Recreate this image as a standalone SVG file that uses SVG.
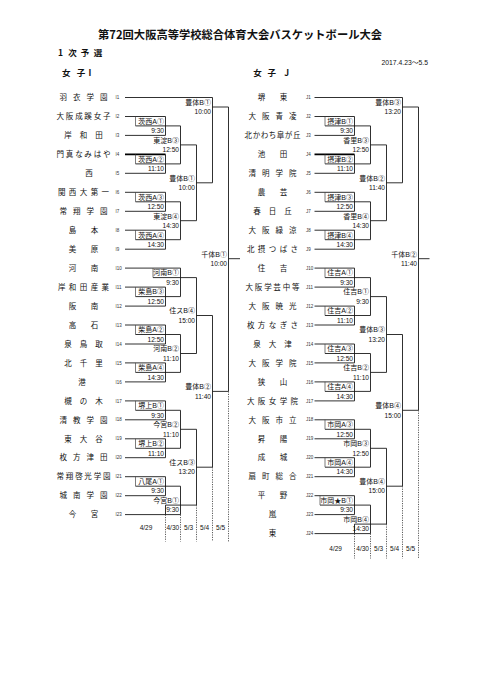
<svg xmlns="http://www.w3.org/2000/svg" width="482" height="680" viewBox="0 0 482 680">
<style>
.ln{stroke:#1a1a1a;stroke-width:0.9;fill:none}
.bd{stroke:#000;stroke-width:1.7;fill:none}
.bx{stroke:#444;stroke-width:0.7;fill:none}
.dt{stroke:#333;stroke-width:0.8;stroke-dasharray:1.2 1.2;fill:none}
.nm{font-family:"Noto Sans CJK JP",sans-serif;font-size:7.5px;fill:#111;text-anchor:middle}
.cd{font-family:"Liberation Sans",sans-serif;font-size:4.5px;fill:#333}
.lb{font-family:"Liberation Sans","Noto Sans CJK JP",sans-serif;font-size:7px;fill:#111;text-anchor:end}
.tm{font-family:"Liberation Sans",sans-serif;font-size:6.6px;fill:#111;text-anchor:end}
.dy{font-family:"Liberation Sans",sans-serif;font-size:6.5px;fill:#111;text-anchor:middle}
.hd{font-family:"Noto Sans CJK JP",sans-serif;font-weight:bold;fill:#111;text-anchor:middle}
</style>
<rect width="482" height="680" fill="#fff"/>
<g id="header">
<text class="hd" x="240" y="39" font-size="11.3" textLength="284" lengthAdjust="spacingAndGlyphs">第72回大阪高等学校総合体育大会バスケットボール大会</text>
<text class="hd" x="60.5 72.5 85 98" y="55.5" font-size="8.5">1次予選</text>
<text font-family="Liberation Sans,Noto Sans CJK JP,sans-serif" font-size="6.8" x="428" y="64.8" text-anchor="end" fill="#111">2017.4.23～5.5</text>
<text class="hd" x="66.3 81 90" y="75.5" font-size="8.5">女子I</text>
<text class="hd" x="257.5 271.7 286.7" y="75.5" font-size="8.5">女子J</text>
</g>
<g id="teams-I">
<g id="team-I1"><text class="nm" x="63.3 76.8 90.2 103.7" y="100.2">羽衣学園</text><text class="cd" x="115.5" y="99.1">I1</text></g>
<g id="team-I2"><text class="nm" x="60.3 69.6 78.9 88.1 97.4 106.7" y="119.2">大阪成蹊女子</text><text class="cd" x="115.5" y="118.1">I2</text></g>
<g id="team-I3"><text class="nm" x="68 83.5 99" y="138.1">岸和田</text><text class="cd" x="115.5" y="137">I3</text></g>
<g id="team-I4"><text class="nm" x="60.3 69.6 78.9 88.1 97.4 106.7" y="157.1">門真なみはや</text><text class="cd" x="115.5" y="156">I4</text></g>
<g id="team-I5"><text class="nm" x="89" y="176">西</text><text class="cd" x="115.5" y="174.9">I5</text></g>
<g id="team-I6"><text class="nm" x="61.7 72.6 83.5 94.4 105.3" y="195">関西大第一</text><text class="cd" x="115.5" y="193.9">I6</text></g>
<g id="team-I7"><text class="nm" x="63.3 76.8 90.2 103.7" y="214">常翔学園</text><text class="cd" x="115.5" y="212.9">I7</text></g>
<g id="team-I8"><text class="nm" x="72.5 94.5" y="232.9">島本</text><text class="cd" x="115.5" y="231.8">I8</text></g>
<g id="team-I9"><text class="nm" x="72.5 94.5" y="251.9">美原</text><text class="cd" x="115.5" y="250.8">I9</text></g>
<g id="team-I10"><text class="nm" x="72.5 94.5" y="270.8">河南</text><text class="cd" x="115.5" y="269.7">I10</text></g>
<g id="team-I11"><text class="nm" x="61.7 72.6 83.5 94.4 105.3" y="289.8">岸和田産業</text><text class="cd" x="115.5" y="288.7">I11</text></g>
<g id="team-I12"><text class="nm" x="72.5 94.5" y="308.8">阪南</text><text class="cd" x="115.5" y="307.7">I12</text></g>
<g id="team-I13"><text class="nm" x="72.5 94.5" y="327.7">高石</text><text class="cd" x="115.5" y="326.6">I13</text></g>
<g id="team-I14"><text class="nm" x="68 83.5 99" y="346.7">泉鳥取</text><text class="cd" x="115.5" y="345.6">I14</text></g>
<g id="team-I15"><text class="nm" x="68 83.5 99" y="365.6">北千里</text><text class="cd" x="115.5" y="364.5">I15</text></g>
<g id="team-I16"><text class="nm" x="82" y="384.6">港</text><text class="cd" x="115.5" y="383.5">I16</text></g>
<g id="team-I17"><text class="nm" x="68 83.5 99" y="403.6">槻の木</text><text class="cd" x="115.5" y="402.5">I17</text></g>
<g id="team-I18"><text class="nm" x="63.3 76.8 90.2 103.7" y="422.5">清教学園</text><text class="cd" x="115.5" y="421.4">I18</text></g>
<g id="team-I19"><text class="nm" x="68 83.5 99" y="441.5">東大谷</text><text class="cd" x="115.5" y="440.4">I19</text></g>
<g id="team-I20"><text class="nm" x="63.3 76.8 90.2 103.7" y="460.4">枚方津田</text><text class="cd" x="115.5" y="459.3">I20</text></g>
<g id="team-I21"><text class="nm" x="60.3 69.6 78.9 88.1 97.4 106.7" y="479.4">常翔啓光学園</text><text class="cd" x="115.5" y="478.3">I21</text></g>
<g id="team-I22"><text class="nm" x="63.3 76.8 90.2 103.7" y="498.4">城南学園</text><text class="cd" x="115.5" y="497.3">I22</text></g>
<g id="team-I23"><text class="nm" x="72.5 94.5" y="517.3">今宮</text><text class="cd" x="115.5" y="516.2">I23</text></g>
</g>
<g id="teams-J">
<g id="team-J1"><text class="nm" x="261.5 283.5" y="100.2">堺東</text><text class="cd" x="306" y="99.1">J1</text></g>
<g id="team-J2"><text class="nm" x="252.3 265.8 279.2 292.7" y="119.2">大阪青凌</text><text class="cd" x="306" y="118.1">J2</text></g>
<g id="team-J3"><text class="nm" x="248.3 256.4 264.4 272.5 280.6 288.6 296.7" y="138.1">北かわち皐が丘</text><text class="cd" x="306" y="137">J3</text></g>
<g id="team-J4"><text class="nm" x="261.5 283.5" y="157.1">池田</text><text class="cd" x="306" y="156">J4</text></g>
<g id="team-J5"><text class="nm" x="252.3 265.8 279.2 292.7" y="176">清明学院</text><text class="cd" x="306" y="174.9">J5</text></g>
<g id="team-J6"><text class="nm" x="261.5 283.5" y="195">農芸</text><text class="cd" x="306" y="193.9">J6</text></g>
<g id="team-J7"><text class="nm" x="257 272.5 288" y="214">春日丘</text><text class="cd" x="306" y="212.9">J7</text></g>
<g id="team-J8"><text class="nm" x="252.3 265.8 279.2 292.7" y="232.9">大阪緑涼</text><text class="cd" x="306" y="231.8">J8</text></g>
<g id="team-J9"><text class="nm" x="250.7 261.6 272.5 283.4 294.3" y="251.9">北摂つばさ</text><text class="cd" x="306" y="250.8">J9</text></g>
<g id="team-J10"><text class="nm" x="261.5 283.5" y="270.8">住吉</text><text class="cd" x="306" y="269.7">J10</text></g>
<g id="team-J11"><text class="nm" x="249.3 258.6 267.9 277.1 286.4 295.7" y="289.8">大阪学芸中等</text><text class="cd" x="306" y="288.7">J11</text></g>
<g id="team-J12"><text class="nm" x="252.3 265.8 279.2 292.7" y="308.8">大阪暁光</text><text class="cd" x="306" y="307.7">J12</text></g>
<g id="team-J13"><text class="nm" x="250.7 261.6 272.5 283.4 294.3" y="327.7">枚方なぎさ</text><text class="cd" x="306" y="326.6">J13</text></g>
<g id="team-J14"><text class="nm" x="257 272.5 288" y="346.7">泉大津</text><text class="cd" x="306" y="345.6">J14</text></g>
<g id="team-J15"><text class="nm" x="252.3 265.8 279.2 292.7" y="365.6">大阪学院</text><text class="cd" x="306" y="364.5">J15</text></g>
<g id="team-J16"><text class="nm" x="261.5 283.5" y="384.6">狭山</text><text class="cd" x="306" y="383.5">J16</text></g>
<g id="team-J17"><text class="nm" x="250.7 261.6 272.5 283.4 294.3" y="403.6">大阪女学院</text><text class="cd" x="306" y="402.5">J17</text></g>
<g id="team-J18"><text class="nm" x="252.3 265.8 279.2 292.7" y="422.5">大阪市立</text><text class="cd" x="306" y="421.4">J18</text></g>
<g id="team-J19"><text class="nm" x="261.5 283.5" y="441.5">昇陽</text><text class="cd" x="306" y="440.4">J19</text></g>
<g id="team-J20"><text class="nm" x="261.5 283.5" y="460.4">成城</text><text class="cd" x="306" y="459.3">J20</text></g>
<g id="team-J21"><text class="nm" x="252.3 265.8 279.2 292.7" y="479.4">扇町総合</text><text class="cd" x="306" y="478.3">J21</text></g>
<g id="team-J22"><text class="nm" x="261.5 283.5" y="498.4">平野</text><text class="cd" x="306" y="497.3">J22</text></g>
<g id="team-J23"><text class="nm" x="272.5" y="517.3">嵐</text><text class="cd" x="306" y="516.2">J23</text></g>
<g id="team-J24"><text class="nm" x="272.5" y="536.3">東</text><text class="cd" x="306" y="535.2">J24</text></g>
</g>
<g id="connectors">
<path class="ln" d="M125 97.5H212.5M125 116.5H165.5M125 135.4H165.5M125 173.3H165.5M125 192.3H165.5M125 211.3H165.5M125 230.2H165.5M125 249.2H165.5M125 268.1H180.5M125 287.1H165.5M125 306.1H165.5M125 325H165.5M125 344H165.5M125 362.9H165.5M125 381.9H165.5M125 400.9H165.5M125 419.8H165.5M125 438.8H165.5M125 457.7H165.5M125 476.7H165.5M125 495.7H165.5M125 514.6H180.5"/>
<path class="bd" d="M125 154.4H165.5"/>
<path class="ln" d="M165.5 116.5V135.4M135.5 125.9H180.5M165.5 154.4V173.3M135.5 163.9H180.5M165.5 192.3V211.3M135.5 201.8H180.5M165.5 230.2V249.2M135.5 239.7H180.5M165.5 287.1V306.1M135.5 296.6H180.5M165.5 325V344M135.5 334.5H180.5M165.5 362.9V381.9M135.5 372.4H180.5M165.5 400.9V419.8M135.5 410.3H180.5M165.5 438.8V457.7M135.5 448.3H180.5M165.5 476.7V495.7M135.5 486.2H180.5"/>
<path class="ln" d="M180.5 125.9V163.9M180.5 144.9H196.5M180.5 201.8V239.7M180.5 220.7H196.5M180.5 268.1V296.6M153 277.6H196.5M180.5 334.5V372.4M180.5 353.5H196.5M180.5 410.3V448.3M180.5 429.3H196.5M180.5 486.2V514.6M165.5 505.1H196.5M165.5 505.1V514.6"/>
<path class="ln" d="M196.5 144.9V220.7M196.5 182.8H212.5M196.5 277.6V353.5M196.5 315.5H212.5M196.5 429.3V505.1M196.5 467.2H212.5"/>
<path class="ln" d="M212.5 97.5V182.8M212.5 107H228.5M212.5 315.5V467.2M212.5 391.4H228.5"/>
<path class="ln" d="M228.5 107V391.4M228.5 258.7H240"/>
<path class="bx" d="M135.5 116.5V125.9M135.5 154.4V163.9M135.5 192.3V201.8M135.5 230.2V239.7M135.5 287.1V296.6M135.5 325V334.5M135.5 362.9V372.4M135.5 400.9V410.3M135.5 438.8V448.3M135.5 476.7V486.2M153 268.1V277.6"/>
<path class="dt" d="M165.5 514.6V541.5M180.5 514.6V541.5M196.5 505.1V541.5M212.5 467.2V541.5M228.5 391.4V541.5"/>
<path class="ln" d="M314.5 97.5H402.5M314.5 116.5H354.5M314.5 135.4H354.5M314.5 173.3H354.5M314.5 192.3H354.5M314.5 211.3H354.5M314.5 230.2H354.5M314.5 249.2H354.5M314.5 268.1H354.5M314.5 287.1H354.5M314.5 306.1H354.5M314.5 325H354.5M314.5 344H354.5M314.5 362.9H354.5M314.5 381.9H354.5M314.5 400.9H354.5M314.5 419.8H354.5M314.5 438.8H354.5M314.5 457.7H354.5M314.5 476.7H354.5M314.5 495.7H354.5M314.5 514.6H354.5M314.5 533.6H370.5"/>
<path class="bd" d="M314.5 154.4H354.5"/>
<path class="ln" d="M354.5 116.5V135.4M325 125.9H370.5M354.5 154.4V173.3M325 163.9H370.5M354.5 192.3V211.3M325 201.8H370.5M354.5 230.2V249.2M325 239.7H370.5M354.5 268.1V287.1M325 277.6H370.5M354.5 306.1V325M325 315.5H370.5M354.5 344V362.9M325 353.5H370.5M354.5 381.9V400.9M325 391.4H370.5M354.5 419.8V438.8M325 429.3H370.5M354.5 457.7V476.7M325 467.2H370.5M354.5 495.7V514.6M320 505.1H370.5"/>
<path class="ln" d="M370.5 125.9V163.9M370.5 144.9H386.5M370.5 201.8V239.7M370.5 220.7H386.5M370.5 277.6V315.5M370.5 296.6H386.5M370.5 353.5V391.4M370.5 372.4H386.5M370.5 429.3V467.2M370.5 448.3H386.5M370.5 505.1V533.6M354.5 524.1H386.5M354.5 524.1V533.6"/>
<path class="ln" d="M386.5 144.9V220.7M386.5 182.8H402.5M386.5 296.6V372.4M386.5 334.5H402.5M386.5 448.3V524.1M386.5 486.2H402.5"/>
<path class="ln" d="M402.5 97.5V182.8M402.5 107H418.5M402.5 334.5V486.2M402.5 410.3H418.5"/>
<path class="ln" d="M418.5 107V410.3M418.5 258.7H429.5"/>
<path class="bx" d="M325 116.5V125.9M325 154.4V163.9M325 192.3V201.8M325 230.2V239.7M325 268.1V277.6M325 306.1V315.5M325 344V353.5M325 381.9V391.4M325 419.8V429.3M325 457.7V467.2M320 495.7V505.1"/>
<path class="dt" d="M354.5 533.6V558.5M370.5 533.6V558.5M386.5 524.1V558.5M402.5 486.2V558.5M418.5 410.3V558.5"/>
</g>
<g id="matches-I">
<g id="mI-1"><text class="lb" x="164" y="123.7">茨西A①</text><text class="tm" x="164" y="133.1">9:30</text></g>
<g id="mI-2"><text class="lb" x="164" y="161.7">茨西A②</text><text class="tm" x="164" y="171.1">11:10</text></g>
<g id="mI-3"><text class="lb" x="164" y="199.6">茨西A③</text><text class="tm" x="164" y="209">12:50</text></g>
<g id="mI-4"><text class="lb" x="164" y="237.5">茨西A④</text><text class="tm" x="164" y="246.9">14:30</text></g>
<g id="mI-5"><text class="lb" x="164" y="294.4">柴島B③</text><text class="tm" x="164" y="303.8">12:50</text></g>
<g id="mI-6"><text class="lb" x="164" y="332.3">柴島A②</text><text class="tm" x="164" y="341.7">12:50</text></g>
<g id="mI-7"><text class="lb" x="164" y="370.2">柴島A④</text><text class="tm" x="164" y="379.6">14:30</text></g>
<g id="mI-8"><text class="lb" x="164" y="408.1">堺上B①</text><text class="tm" x="164" y="417.5">9:30</text></g>
<g id="mI-9"><text class="lb" x="164" y="446.1">堺上B②</text><text class="tm" x="164" y="455.5">11:10</text></g>
<g id="mI-10"><text class="lb" x="164" y="484">八尾A①</text><text class="tm" x="164" y="493.4">9:30</text></g>
<g id="mI-11"><text class="lb" x="179" y="142.7">東淀B③</text><text class="tm" x="179" y="152.1">12:50</text></g>
<g id="mI-12"><text class="lb" x="179" y="218.5">東淀B④</text><text class="tm" x="179" y="227.9">14:30</text></g>
<g id="mI-13"><text class="lb" x="179" y="275.4">河南B①</text><text class="tm" x="179" y="284.8">9:30</text></g>
<g id="mI-14"><text class="lb" x="179" y="351.3">河南B②</text><text class="tm" x="179" y="360.7">11:10</text></g>
<g id="mI-15"><text class="lb" x="179" y="427.1">今宮B②</text><text class="tm" x="179" y="436.5">11:10</text></g>
<g id="mI-16"><text class="lb" x="179" y="502.9">今宮B①</text><text class="tm" x="179" y="512.3">9:30</text></g>
<g id="mI-17"><text class="lb" x="195" y="180.6">豊体B①</text><text class="tm" x="195" y="190">10:00</text></g>
<g id="mI-18"><text class="lb" x="195" y="313.3">住スB④</text><text class="tm" x="195" y="322.7">15:00</text></g>
<g id="mI-19"><text class="lb" x="195" y="465">住スB③</text><text class="tm" x="195" y="474.4">13:20</text></g>
<g id="mI-20"><text class="lb" x="211" y="104.8">豊体B①</text><text class="tm" x="211" y="114.2">10:00</text></g>
<g id="mI-21"><text class="lb" x="211" y="389.2">豊体B②</text><text class="tm" x="211" y="398.6">11:40</text></g>
<g id="mI-22"><text class="lb" x="227" y="256.5">千体B①</text><text class="tm" x="227" y="265.9">10:00</text></g>
</g>
<g id="matches-J">
<g id="mJ-1"><text class="lb" x="353" y="123.7">摂津B①</text><text class="tm" x="353" y="133.1">9:30</text></g>
<g id="mJ-2"><text class="lb" x="353" y="161.7">摂津B②</text><text class="tm" x="353" y="171.1">11:10</text></g>
<g id="mJ-3"><text class="lb" x="353" y="199.6">摂津B③</text><text class="tm" x="353" y="209">12:50</text></g>
<g id="mJ-4"><text class="lb" x="353" y="237.5">摂津B④</text><text class="tm" x="353" y="246.9">14:30</text></g>
<g id="mJ-5"><text class="lb" x="353" y="275.4">住吉A①</text><text class="tm" x="353" y="284.8">9:30</text></g>
<g id="mJ-6"><text class="lb" x="353" y="313.3">住吉A②</text><text class="tm" x="353" y="322.7">11:10</text></g>
<g id="mJ-7"><text class="lb" x="353" y="351.3">住吉A③</text><text class="tm" x="353" y="360.7">12:50</text></g>
<g id="mJ-8"><text class="lb" x="353" y="389.2">住吉A④</text><text class="tm" x="353" y="398.6">14:30</text></g>
<g id="mJ-9"><text class="lb" x="353" y="427.1">市岡A③</text><text class="tm" x="353" y="436.5">12:50</text></g>
<g id="mJ-10"><text class="lb" x="353" y="465">市岡A④</text><text class="tm" x="353" y="474.4">14:30</text></g>
<g id="mJ-11"><text class="lb" x="353" y="502.9">市岡★B①</text><text class="tm" x="353" y="512.3">9:30</text></g>
<g id="mJ-12"><text class="lb" x="369" y="142.7">香里B③</text><text class="tm" x="369" y="152.1">12:50</text></g>
<g id="mJ-13"><text class="lb" x="369" y="218.5">香里B④</text><text class="tm" x="369" y="227.9">14:30</text></g>
<g id="mJ-14"><text class="lb" x="369" y="294.4">住吉B①</text><text class="tm" x="369" y="303.8">9:30</text></g>
<g id="mJ-15"><text class="lb" x="369" y="370.2">住吉B②</text><text class="tm" x="369" y="379.6">11:10</text></g>
<g id="mJ-16"><text class="lb" x="369" y="446.1">市岡B③</text><text class="tm" x="369" y="455.5">12:50</text></g>
<g id="mJ-17"><text class="lb" x="369" y="521.9">市岡B④</text><text class="tm" x="369" y="531.3">14:30</text></g>
<g id="mJ-18"><text class="lb" x="385" y="180.6">豊体B②</text><text class="tm" x="385" y="190">11:40</text></g>
<g id="mJ-19"><text class="lb" x="385" y="332.3">豊体B③</text><text class="tm" x="385" y="341.7">13:20</text></g>
<g id="mJ-20"><text class="lb" x="385" y="484">豊体B④</text><text class="tm" x="385" y="493.4">15:00</text></g>
<g id="mJ-21"><text class="lb" x="401" y="104.8">豊体B③</text><text class="tm" x="401" y="114.2">13:20</text></g>
<g id="mJ-22"><text class="lb" x="401" y="408.1">豊体B④</text><text class="tm" x="401" y="417.5">15:00</text></g>
<g id="mJ-23"><text class="lb" x="417" y="256.5">千体B②</text><text class="tm" x="417" y="265.9">11:40</text></g>
</g>
<g id="dates">
<text class="dy" x="146" y="530.3">4/29</text>
<text class="dy" x="172.8" y="530.3">4/30</text>
<text class="dy" x="188.6" y="530.3">5/3</text>
<text class="dy" x="204.6" y="530.3">5/4</text>
<text class="dy" x="220.6" y="530.3">5/5</text>
<text class="dy" x="335.6" y="550.8">4/29</text>
<text class="dy" x="362.6" y="550.8">4/30</text>
<text class="dy" x="378.6" y="550.8">5/3</text>
<text class="dy" x="394.6" y="550.8">5/4</text>
<text class="dy" x="410.6" y="550.8">5/5</text>
</g>
</svg>
